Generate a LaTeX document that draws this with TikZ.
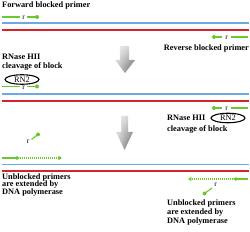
\documentclass[tikz,border=0pt]{standalone}
\usepackage{fontspec}
\setmainfont{Liberation Serif}
\usetikzlibrary{arrows.meta,shapes.geometric,fadings}
\definecolor{blueline}{RGB}{110,170,225}
\definecolor{redline}{RGB}{215,35,40}
\definecolor{primergreen}{RGB}{105,200,45}
\tikzfading[name=topfade, top color=transparent!70, bottom color=transparent!0]
\tikzset{
  lbl/.style={font=\fontsize{8.3}{8.8}\selectfont\bfseries, inner sep=0pt, align=left},
  rlab/.style={font=\fontsize{7.5}{7.5}\selectfont, inner sep=0pt},
  blue strand/.style={draw=blueline, line width=1.4pt},
  red strand/.style={draw=redline, line width=1.4pt},
  primer/.style={draw=primergreen, line width=1.1pt},
  blockdot/.style={fill=primergreen},
  ext/.style={draw=primergreen, line width=1.1pt, -{Triangle[length=3.5pt,width=4pt]}},
  extdot/.style={draw=primergreen, line width=1.1pt, dash pattern=on 1pt off 1pt, -{Triangle[length=3.5pt,width=4pt]}},
  enzyme/.style={ellipse, draw=black, line width=1.1pt, minimum width=34pt, minimum height=9.5pt, inner sep=0pt, font=\fontsize{8.3}{8.3}\selectfont},
  bigarrow/.style={left color=gray!35, right color=gray!70!black, draw=none, path fading=topfade},
}
\begin{document}
\begin{tikzpicture}[x=1pt,y=-1pt]
\useasboundingbox (0,0) rectangle (250,232);

% ---------- stage 1 ----------
\node[lbl, anchor=west] (t1) at (2,5.5) {Forward blocked primer};
\coordinate (f1a) at (2,17); \coordinate (f1b) at (20,17);
\coordinate (f1c) at (27,17); \coordinate (f1d) at (37,17);
\draw[primer] (f1a) -- (f1b);
\node[rlab] (r1) at (23.5,18) {r};
\draw[primer] (f1c) -- (f1d);
\fill[blockdot] (f1d) circle (2);

\coordinate (b1a) at (2,23); \coordinate (b1b) at (249,23);
\coordinate (d1a) at (2,30); \coordinate (d1b) at (249,30);
\draw[blue strand] (b1a) -- (b1b);
\draw[red strand] (d1a) -- (d1b);

\coordinate (v1a) at (214,37); \coordinate (v1b) at (222,37);
\coordinate (v1c) at (231,37); \coordinate (v1d) at (248,37);
\fill[blockdot] (v1a) circle (2);
\draw[primer] (v1a) -- (v1b);
\node[rlab] (r2) at (226.5,38) {r};
\draw[primer] (v1c) -- (v1d);
\node[lbl, anchor=east] (t2) at (249,49) {Reverse blocked primer};

% big arrow 1
\shade[bigarrow] (120,46) -- (129,46) -- (129,60) -- (135,60) -- (125,73) -- (115,60) -- (120,60) -- cycle;

% ---------- stage 2 ----------
\node[lbl, anchor=west] (t3) at (2,62) {RNase HII\\[0.7pt]cleavage of block};
\node[enzyme] (e1) at (22,79.5) {RN2};
\coordinate (f2a) at (2,86.5); \coordinate (f2b) at (20,86.5);
\coordinate (f2c) at (27,86.5); \coordinate (f2d) at (37,86.5);
\draw[primer] (f2a) -- (f2b);
\node[rlab] (r3) at (23.5,87.5) {r};
\draw[primer] (f2c) -- (f2d);
\fill[blockdot] (f2d) circle (2);

\coordinate (b2a) at (2,94); \coordinate (b2b) at (249,94);
\coordinate (d2a) at (2,101); \coordinate (d2b) at (249,101);
\draw[blue strand] (b2a) -- (b2b);
\draw[red strand] (d2a) -- (d2b);

\coordinate (v2a) at (214,108); \coordinate (v2b) at (222,108);
\coordinate (v2c) at (231,108); \coordinate (v2d) at (248,108);
\fill[blockdot] (v2a) circle (2);
\draw[primer] (v2a) -- (v2b);
\node[rlab] (r4) at (226.5,109) {r};
\draw[primer] (v2c) -- (v2d);
\node[enzyme] (e2) at (228,118) {RN2};
\node[lbl, anchor=west] (t4) at (167,124) {RNase HII\\[2.5pt]cleavage of block};

% big arrow 2
\shade[bigarrow] (121,116) -- (128,116) -- (128,132) -- (133,132) -- (124.5,150) -- (116,132) -- (121,132) -- cycle;

% ---------- stage 3 ----------
\node[rlab] (r5) at (28,142) {r};
\coordinate (c1a) at (31.5,139.5); \coordinate (c1b) at (38,134.5);
\draw[primer] (c1a) -- (c1b);
\fill[blockdot] (c1b) circle (2);

\coordinate (f3a) at (2,158); \coordinate (f3b) at (20,158); \coordinate (f3c) at (62,158);
\draw[ext] (f3a) -- (f3b);
\draw[extdot] (f3b) -- (f3c);

\coordinate (b3a) at (2,164.5); \coordinate (b3b) at (249,164.5);
\coordinate (d3a) at (2,171); \coordinate (d3b) at (249,171);
\draw[blue strand] (b3a) -- (b3b);
\draw[red strand] (d3a) -- (d3b);

\coordinate (v3a) at (248,179); \coordinate (v3b) at (233,179); \coordinate (v3c) at (188,179);
\draw[ext] (v3a) -- (v3b);
\draw[extdot] (v3b) -- (v3c);

\node[rlab] (r6) at (215.5,185) {r};
\coordinate (c2a) at (212,188); \coordinate (c2b) at (204.5,193.5);
\draw[primer] (c2a) -- (c2b);
\fill[blockdot] (c2b) circle (2);

\node[lbl, anchor=west] (t5) at (2,185) {Unblocked primers\\[-1.2pt]are extended by\\[-1.2pt]DNA polymerase};
\node[lbl, anchor=west] (t6) at (167,212.5) {Unblocked primers\\[0.6pt]are extended by\\[0.6pt]DNA polymerase};
\end{tikzpicture}
\end{document}
